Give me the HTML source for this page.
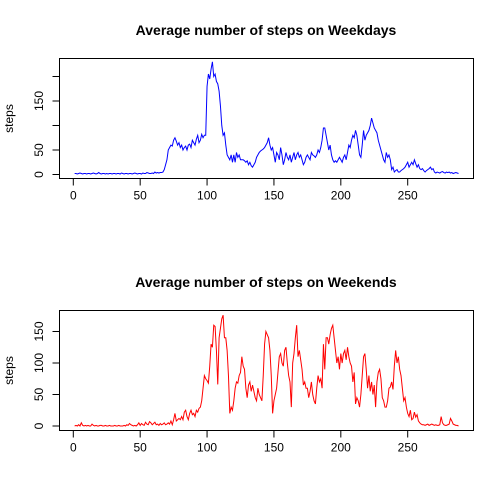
<!DOCTYPE html>
<html><head><meta charset="utf-8"><style>
body{margin:0;background:#fff}
svg{display:block;font-family:"Liberation Sans",sans-serif}
</style></head><body>
<svg id="c" width="504" height="504"></svg>
<script>
const intervals = Array.from({length:288},(_,i)=>i+1);
const weekdaySteps = [2,2,1,2,3,2,1,2,2,1,2,2,1,2,3,2,1,2,4,2,1,2,2,1,2,1,2,2,1,2,2,1,2,2,1,3,2,1,2,2,1,2,2,1,2,3,2,1,2,2,1,3,2,2,4,3,2,2,3,2,5,3,4,3,4,4,5,
10,20,30,50,55,
60,58,70,75,68,60,65,55,
60,50,55,58,50,60,62,55,70,65,
60,72,80,65,70,82,75,80,80,
180,205,195,215,230,
200,205,190,185,170,140,
100,80,85,60,40,35,30,40,
25,40,25,45,35,40,30,
30,30,28,25,28,20,25,18,15,20,
25,35,40,45,48,50,52,55,60,65,
75,60,50,55,40,
25,45,40,30,55,40,20,30,45,35,
30,40,25,35,45,30,40,45,35,40,
30,20,25,35,40,35,30,45,40,38,
35,40,50,45,55,70,95,95,80,65,
50,60,40,30,25,28,25,30,35,30,
25,35,40,30,45,60,55,70,80,75,
90,80,60,40,35,60,90,70,80,85,
90,100,115,105,95,90,85,70,60,50,
40,30,25,45,35,40,30,10,15,5,
8,10,5,5,8,10,12,15,20,25,
15,20,25,20,30,22,15,20,12,10,
12,8,5,8,10,12,15,10,12,5,
3,5,4,3,5,6,4,3,5,4,5,3,4,2,3,4,3,2];
const weekendSteps = [0,1,0,2,0,5,1,0,1,0,1,0,0,3,1,0,1,0,0,1,1,0,0,1,0,0,1,0,0,0,1,0,0,1,0,0,0,1,0,2,1,4,2,1,0,1,0,2,5,1,4,2,1,6,3,2,7,5,2,4,6,2,3,1,4,2,3,5,2,3,
5,3,8,2,10,20,8,10,12,10,
15,10,22,25,15,10,20,25,18,20,
15,25,22,28,30,40,60,80,75,
72,68,95,130,125,160,
158,120,66,140,155,
170,176,140,
140,120,80,20,30,25,40,
60,70,68,80,85,110,95,90,60,45,
65,70,55,65,55,45,40,60,50,45,
40,80,130,150,145,140,120,80,20,40,
50,60,85,110,115,100,95,120,125,100,
80,70,30,100,115,140,160,110,120,105,
90,65,70,60,60,45,55,70,50,40,
35,60,80,70,75,60,130,90,140,140,
130,145,155,160,140,120,100,110,90,115,
100,115,120,105,125,110,100,95,70,85,
35,45,40,30,50,80,110,115,90,60,
80,55,70,50,65,30,70,85,90,75,
45,40,30,30,40,60,62,70,58,95,
120,100,110,90,80,60,40,45,30,20,
15,25,10,12,22,14,18,8,5,3,
2,2,1,2,3,1,2,3,2,1,
2,1,1,2,15,5,2,1,1,2,3,12,8,3,2,1,1,0];
const xTicks = [0,50,100,150,200,250];
const topYTicks = [0,50,100,150,200];
const topYLabels = ["0","50","","150",""];
const botYTicks = [0,50,100,150];
const botYLabels = ["0","50","100","150"];

const svg=document.getElementById('c');
const NS='http://www.w3.org/2000/svg';
function mk(t,a,parent){const e=document.createElementNS(NS,t);for(const k in a)e.setAttribute(k,a[k]);(parent||svg).appendChild(e);return e;}

function panel(p){
  const g=mk('g',{});
  
  
  const xs=v=>73.3+v*1.3376;
  const ys=v=>p.y0-v*p.k;
  const box=mk('rect',{x:59.5,y:p.top,width:414,height:p.bot-p.top,fill:'none',stroke:'#000','stroke-width':1},g);
  
  
  const t=mk('text',{x:266,y:p.titleY,'text-anchor':'middle','font-size':14,'font-weight':'bold'},g);
  t.textContent=p.title;
  
  
  const yl=mk('text',{x:0,y:0,'text-anchor':'middle','font-size':12,transform:`translate(13,${(p.top+p.bot)/2}) rotate(-90)`},g);
  yl.textContent='steps';
  
  
  // x axis
  const xa=mk('line',{x1:xs(xTicks[0]),x2:xs(xTicks[xTicks.length-1]),y1:p.bot,y2:p.bot,stroke:'#000'},g);
  
  
  xTicks.forEach(v=>{
    mk('line',{x1:xs(v),x2:xs(v),y1:p.bot,y2:p.bot+7,stroke:'#000'},g);
    const l=mk('text',{x:xs(v),y:p.bot+21,'text-anchor':'middle','font-size':12},g);
    l.textContent=v;
    
    
  });
  // y axis
  const ya=mk('line',{x1:59.5,x2:59.5,y1:ys(p.yt[0]),y2:ys(p.yt[p.yt.length-1]),stroke:'#000'},g);
  
  
  p.yt.forEach((v,i)=>{
    mk('line',{x1:52.5,x2:59.5,y1:ys(v),y2:ys(v),stroke:'#000'},g);
    if(p.yl[i]){
      const l=mk('text',{x:0,y:0,'text-anchor':'middle','font-size':12,transform:`translate(43,${ys(v)}) rotate(-90)`},g);
      l.textContent=p.yl[i];
      
      
    }
  });
  const d=p.data.map((v,i)=>(i?'L':'M')+xs(intervals[i]).toFixed(2)+','+ys(v).toFixed(2)).join('');
  const line=mk('path',{d:d,fill:'none',stroke:p.color,'stroke-width':1},g);
  
  
}
panel({name:'weekday-panel',title:'Average number of steps on Weekdays',titleY:35,top:58.5,bot:178.5,y0:174.5,k:0.49,yt:topYTicks,yl:topYLabels,data:weekdaySteps,color:'#0000ff',lineName:'weekday-line'});
panel({name:'weekend-panel',title:'Average number of steps on Weekends',titleY:287,top:310.5,bot:430.5,y0:426,k:0.63,yt:botYTicks,yl:botYLabels,data:weekendSteps,color:'#ff0000',lineName:'weekend-line'});
</script>
</body></html>
